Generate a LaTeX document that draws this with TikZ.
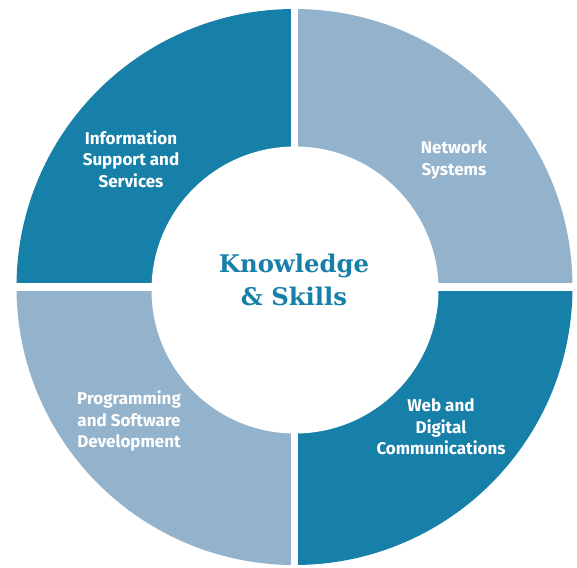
\documentclass[tikz,border=0pt]{standalone}
\usepackage{fontspec}
\setmainfont{Fira Sans}
\newfontfamily\slabfont{DejaVu Serif}
\definecolor{dteal}{RGB}{23,128,168}
\definecolor{lblue}{RGB}{147,178,203}
\begin{document}
\begin{tikzpicture}[x=1pt,y=1pt,
  lbl/.style={text=white, font=\bfseries\fontsize{17}{21.5}\selectfont, align=center, inner sep=0pt},
  ctr/.style={text=dteal, font=\slabfont\bfseries\fontsize{24.3}{33}\selectfont, align=center, inner sep=0pt}]
\useasboundingbox (0,0) rectangle (577,567);
\coordinate (c) at (294.5,280);
\fill[dteal] (c) -- ++(180:278) arc (180:90:278) -- cycle;
\fill[lblue] (c) -- ++(90:278) arc (90:0:278) -- cycle;
\fill[dteal] (c) -- ++(0:278) arc (0:-90:278) -- cycle;
\fill[lblue] (c) -- ++(-90:278) arc (-90:-180:278) -- cycle;
\draw[white, line width=7.5pt] (c) ++(-290,0) -- ++(580,0);
\draw[white, line width=7.5pt] (c) ++(0,-290) -- ++(0,580);
\coordinate (ic) at (295,277);
\fill[white] (ic) circle (143.5);
\node[ctr] (ks) at (294,287.5) {Knowledge\\\& Skills};
\node[lbl] (info) at (131,408) {Information\\Support and\\Services};
\node[lbl] (net) at (454,407) {Network\\Systems};
\node[lbl] (prog) at (129,146) {Programming\\and Software\\Development};
\node[lbl] (web) at (441,140) {Web and\\Digital\\Communications};
\end{tikzpicture}
\end{document}
